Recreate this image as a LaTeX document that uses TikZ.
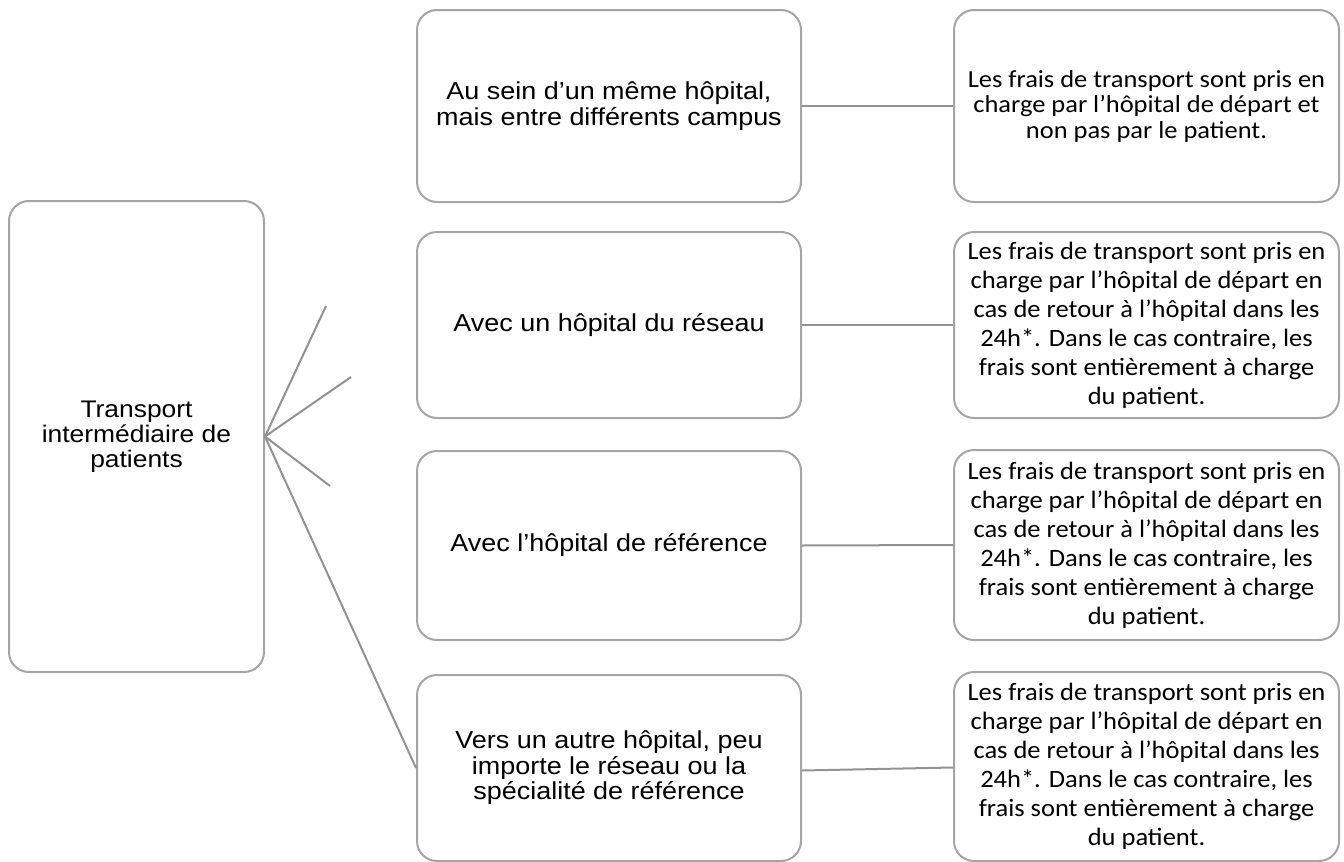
\documentclass[tikz,border=0pt]{standalone}
\usepackage{fontspec}
\setmainfont{Liberation Sans}[FakeStretch=1.1]
\newfontfamily\calib{Carlito}[FakeStretch=1.08]
\newfontfamily\calibn{Carlito}[FakeStretch=1.06]
\definecolor{boxgray}{HTML}{A5A5A5}
\definecolor{conngray}{HTML}{929292}
\begin{document}
\begin{tikzpicture}[x=1pt,y=-1pt,
  box/.style={draw=boxgray, line width=2pt, rounded corners=20pt, fill=white, align=center, inner sep=0pt},
  leftbox/.style={box, minimum width=255pt, font=\fontsize{24}{25}\selectfont},
  midbox/.style={box, minimum width=384pt, font=\fontsize{24.5}{25.5}\selectfont},
  rightbox/.style={box, minimum width=385pt, font=\calib\fontsize{24.5}{25.5}\selectfont},
  rightlong/.style={box, minimum width=385pt, font=\calibn\fontsize{25}{29}\selectfont},
  conn/.style={draw=conngray, line width=2pt}]
\useasboundingbox (0,0) rectangle (1344,862);

\node[leftbox, minimum height=471pt] (L) at (136.5,436.5) {Transport\\intermédiaire de\\patients};

\node[midbox, minimum height=192pt] (m1) at (609,106) {Au sein d’un même hôpital,\\mais entre différents campus};
\node[midbox, minimum height=186pt] (m2) at (609,325) {Avec un hôpital du réseau};
\node[midbox, minimum height=189pt] (m3) at (609,545.5) {Avec l’hôpital de référence};
\node[midbox, minimum height=186pt] (m4) at (609,768) {Vers un autre hôpital, peu\\importe le réseau ou la\\spécialité de référence};

\node[rightbox, minimum height=192pt] (r1) at (1146.5,106) {Les frais de transport sont pris en\\charge par l’hôpital de départ et\\non pas par le patient.};
\node[rightlong, minimum height=186pt] (r2) at (1146.5,325) {Les frais de transport sont pris en\\charge par l’hôpital de départ en\\cas de retour à l’hôpital dans les\\24h*. Dans le cas contraire, les\\frais sont entièrement à charge\\du patient.};
\node[rightlong, minimum height=190pt] (r3) at (1146.5,545) {Les frais de transport sont pris en\\charge par l’hôpital de départ en\\cas de retour à l’hôpital dans les\\24h*. Dans le cas contraire, les\\frais sont entièrement à charge\\du patient.};
\node[rightlong, minimum height=189pt] (r4) at (1146.5,766.5) {Les frais de transport sont pris en\\charge par l’hôpital de départ en\\cas de retour à l’hôpital dans les\\24h*. Dans le cas contraire, les\\frais sont entièrement à charge\\du patient.};

\coordinate (e1) at (326,306);
\coordinate (e2) at (351,377);
\coordinate (e3) at (330,486);

\draw[conn] (L.east) -- (e1);
\draw[conn] (L.east) -- (e2);
\draw[conn] (L.east) -- (e3);
\draw[conn] (L.east) -- (m4.west);

\draw[conn] (m1.east) -- (r1.west);
\draw[conn] (m2.east) -- (r2.west);
\draw[conn] (m3.east) -- (r3.west);
\draw[conn] ([yshift=-2.5pt]m4.east) -- ([yshift=-1pt]r4.west);
\end{tikzpicture}
\end{document}
